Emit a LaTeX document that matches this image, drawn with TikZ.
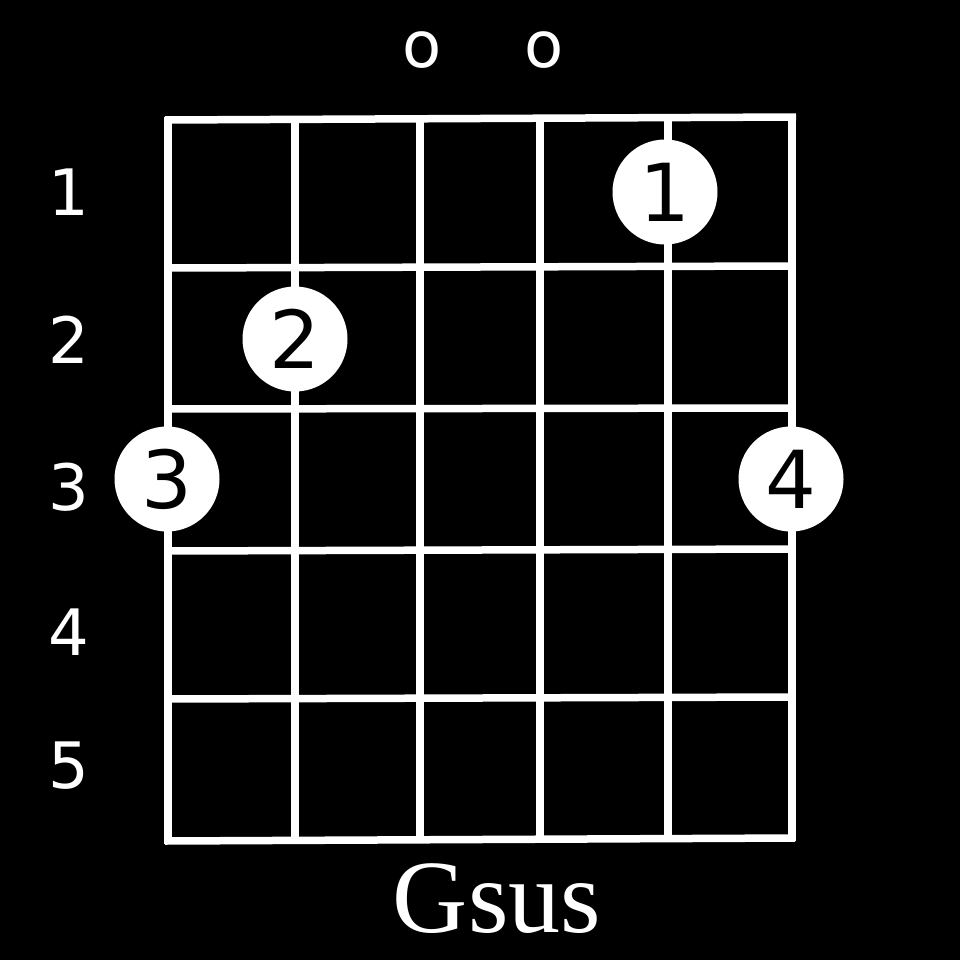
\documentclass[tikz,border=0pt]{standalone}
\usepackage{fontspec}
\setmainfont{DejaVu Sans}
\newfontfamily\titlefont{Liberation Serif}
\begin{document}
\begin{tikzpicture}[x=1pt,y=-1pt,
  gridline/.style={white,line width=7.5pt},
  fretlabel/.style={text=white,inner sep=0pt,font=\fontsize{64}{64}\selectfont},
  openmark/.style={text=white,inner sep=0pt,font=\fontsize{64}{64}\selectfont},
  finger/.style={circle,fill=white,text=black,inner sep=0pt,minimum size=105pt,font=\fontsize{80}{80}\selectfont}]
\fill[black] (0,0) rectangle (960,960);
\useasboundingbox (0,0) rectangle (960,960);
% horizontal fret lines
\draw[gridline] (165,120) -- (796,117);
\draw[gridline] (168,268) -- (792,266);
\draw[gridline] (168,409) -- (792,408);
\draw[gridline] (168,551) -- (792,549);
\draw[gridline] (168,699) -- (792,697);
\draw[gridline] (165,841) -- (795,838);
% vertical string lines
\draw[gridline] (168,117) -- (168,844);
\draw[gridline] (295,117) -- (295,841);
\draw[gridline] (420,117) -- (420,841);
\draw[gridline] (540,117) -- (540,841);
\draw[gridline] (668,117) -- (668,841);
\draw[gridline] (792,114) -- (792,841);
% fret numbers
\node[fretlabel] (f1) at (69,192) {1};
\node[fretlabel] (f2) at (69,340) {2};
\node[fretlabel] (f3) at (69,487) {3};
\node[fretlabel] (f4) at (69,632) {4};
\node[fretlabel] (f5) at (69,766) {5};
% open strings
\node[openmark] (o1) at (422,50) {o};
\node[openmark] (o2) at (544,50) {o};
% fingers
\node[finger] (d1) at (665,192) {1};
\node[finger] (d2) at (295,339) {2};
\node[finger] (d3) at (167,479) {3};
\node[finger] (d4) at (791,479) {4};
% chord name
\node[text=white,inner sep=0pt,anchor=base,font=\titlefont\fontsize{104}{104}\selectfont] (title) at (497,932) {Gsus};
\end{tikzpicture}
\end{document}
